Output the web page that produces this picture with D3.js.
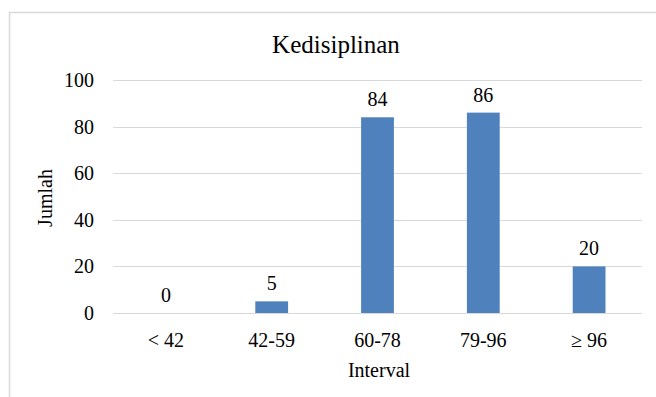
<!DOCTYPE html>
<html><head><meta charset="utf-8">
<script src="https://cdn.jsdelivr.net/npm/d3@7"></script>
<style>body{margin:0;background:#fff}svg{display:block}</style>
</head><body>
<svg id="c" width="656" height="397" font-family="'Liberation Serif', 'Times New Roman', 'DejaVu Serif', serif"></svg>
<script>
const categories = ["< 42", "42-59", "60-78", "79-96", "\u2265 96"];
const values = [0, 5, 84, 86, 20];
const yTicks = [0, 20, 40, 60, 80, 100];
const title = "Kedisiplinan";
const xTitle = "Interval";
const yTitle = "Jumlah";

const FONT = "'Liberation Serif', 'Times New Roman', serif";
const svg = d3.select("#c");
// outer chart border
svg.append("path").attr("d", "M9.5,400 V12.5 H660").attr("fill", "none").attr("stroke", "#d9d9d9").attr("stroke-width", 1.5);

const x = d3.scaleBand().domain(categories).range([113, 642]).paddingInner(0.69).paddingOuter(0.345);
const y = d3.scaleLinear().domain([0, 100]).range([313, 80]);

// gridlines
svg.append("g").selectAll("line").data(yTicks).join("line")
  .attr("x1", 113).attr("x2", 642)
  .attr("y1", d => Math.round(y(d)) + 0.5).attr("y2", d => Math.round(y(d)) + 0.5)
  .attr("stroke", "#d9d9d9").attr("stroke-width", 1);

function txt(sel) { return sel.attr("font-family", FONT).attr("fill", "#000"); }

// y tick labels
txt(svg.append("g").selectAll("text").data(yTicks).join("text"))
  .attr("x", 94).attr("y", d => y(d)).attr("dy", "0.35em")
  .attr("text-anchor", "end").attr("font-size", 20).text(d => d);

// bars
svg.append("g").selectAll("rect").data(values).join("rect")
  .attr("x", (d, i) => x(categories[i])).attr("width", x.bandwidth())
  .attr("y", d => y(d)).attr("height", d => y(0) - y(d))
  .attr("fill", "#4f81bd");

// data labels
txt(svg.append("g").selectAll("text").data(values).join("text"))
  .attr("x", (d, i) => x(categories[i]) + x.bandwidth() / 2)
  .attr("y", d => y(d) - 11)
  .attr("text-anchor", "middle").attr("font-size", 20).text(d => d);

// x tick labels
txt(svg.append("g").selectAll("text").data(categories).join("text"))
  .attr("x", d => x(d) + x.bandwidth() / 2).attr("y", 347)
  .attr("text-anchor", "middle").attr("font-size", 20).text(d => d);

// titles
txt(svg.append("text")).attr("x", 336).attr("y", 53).attr("text-anchor", "middle").attr("font-size", 25).text(title);
txt(svg.append("text")).attr("x", 379).attr("y", 377).attr("text-anchor", "middle").attr("font-size", 20).text(xTitle);
txt(svg.append("text")).attr("transform", "translate(52,198) rotate(-90)").attr("text-anchor", "middle").attr("font-size", 20).text(yTitle);
</script>
</body></html>
